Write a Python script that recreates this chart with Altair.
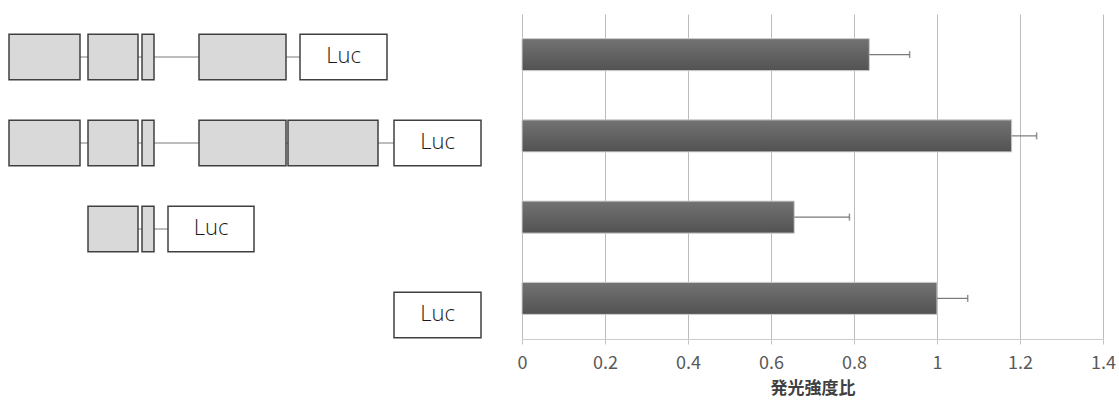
import altair as alt
import pandas as pd

# Reporter constructs, top to bottom
constructs = ["construct_1", "construct_2", "construct_3", "luc_only"]

# Relative luminescence (mean) and error (SD)
ratio = [0.837, 1.18, 0.656, 1.0]
error = [0.097, 0.06, 0.133, 0.074]

# Construct maps (map units along the construct)
exon_row = ["construct_1"] * 4 + ["construct_2"] * 5 + ["construct_3"] * 2
exon_start = [9, 88, 142, 199, 9, 88, 142, 199, 288, 88, 142]
exon_end = [80, 138, 154, 286, 80, 138, 154, 286, 378, 138, 154]
luc_start = [300, 394, 168, 394]
luc_end = [387, 481, 254, 481]
luc_label = ["Luc", "Luc", "Luc", "Luc"]

FONT = "Noto Sans CJK JP"

exons = pd.DataFrame({"row": exon_row, "start": exon_start, "end": exon_end})
luc = pd.DataFrame({"row": constructs, "start": luc_start, "end": luc_end, "label": luc_label})

# connector line from the first element of each construct to the Luc box
first_start = exons.groupby("row")["start"].min()
links = pd.DataFrame({
    "row": list(first_start.index),
    "start": list(first_start.values),
    "end": [luc.set_index("row").loc[r, "start"] for r in first_start.index],
})

MAP_W = 522
map_x = alt.Scale(domain=[0, MAP_W], nice=False, zero=False)
map_y = alt.Y("row:N", scale=alt.Scale(domain=constructs, paddingInner=0.47, paddingOuter=0.235), axis=None)

link_layer = alt.Chart(links).mark_rule(color="#7a7a7a", strokeWidth=1).encode(
    x=alt.X("start:Q", scale=map_x, axis=None), x2="end:Q", y=map_y
)
exon_layer = alt.Chart(exons).mark_bar(fill="#d9d9d9", stroke="#404040", strokeWidth=1.5).encode(
    x=alt.X("start:Q", scale=map_x, axis=None), x2="end:Q", y=map_y
)
luc_layer = alt.Chart(luc).mark_bar(fill="white", stroke="#404040", strokeWidth=1.5).encode(
    x=alt.X("start:Q", scale=map_x, axis=None), x2="end:Q", y=map_y
)
luc_text = alt.Chart(luc).transform_calculate(mid="(datum.start + datum.end) / 2").mark_text(
    font="Open Sans", fontWeight=300, fontSize=22, color="#1a1a1a",
    baseline="middle", align="center", dy=-1
).encode(x=alt.X("mid:Q", scale=map_x, axis=None), y=map_y, text="label:N")

diagram = alt.layer(link_layer, exon_layer, luc_layer, luc_text).properties(width=MAP_W, height=344)

# Bar chart of luminescence ratios
values = pd.DataFrame({"construct": constructs, "ratio": ratio, "error": error})
values["upper"] = values["ratio"] + values["error"]

bar_y = alt.Y("construct:N", scale=alt.Scale(domain=constructs, paddingInner=0.606, paddingOuter=0.303), axis=None)
bar_x = alt.X(
    "ratio:Q",
    scale=alt.Scale(domain=[0, 1.4], nice=False, zero=True),
    axis=alt.Axis(
        values=[0, 0.2, 0.4, 0.6, 0.8, 1, 1.2, 1.4],
        format="~g",
        title="発光強度比",
        grid=True,
        gridColor="#bcbcbc",
        gridWidth=1,
        domainColor="#cccccc",
        tickColor="#c4c4c4",
        tickSize=5,
        labelFont=FONT,
        labelFontSize=18,
        labelColor="#595959",
        labelPadding=10,
        labelFlush=False,
        titleFont=FONT,
        titleFontSize=17,
        titleFontWeight="bold",
        titleColor="#404040",
        titlePadding=8,
    ),
)

gradient = alt.Gradient(
    gradient="linear",
    stops=[alt.GradientStop(color="#737373", offset=0), alt.GradientStop(color="#525252", offset=1)],
    x1=0, x2=0, y1=0, y2=1,
)

bars = alt.Chart(values).mark_bar(color=gradient, stroke="#cfcfcf", strokeWidth=1).encode(x=bar_x, y=bar_y)
err_line = alt.Chart(values).mark_rule(color="#7a7a7a", strokeWidth=1.2).encode(
    x="ratio:Q", x2="upper:Q", y=bar_y
)
err_cap = alt.Chart(values).mark_tick(color="#666666", orient="vertical", size=7, thickness=1.5).encode(
    x="upper:Q", y=bar_y
)

bar_chart = alt.layer(bars, err_line, err_cap).properties(width=581, height=325)

chart = alt.hconcat(diagram, bar_chart, spacing=0, bounds="flush").properties(
    padding={"left": 0, "top": 14, "right": 0, "bottom": 0}, background="white"
).configure_view(stroke=None)

chart.save("out.html", embed_options={"renderer": "svg", "actions": False})
